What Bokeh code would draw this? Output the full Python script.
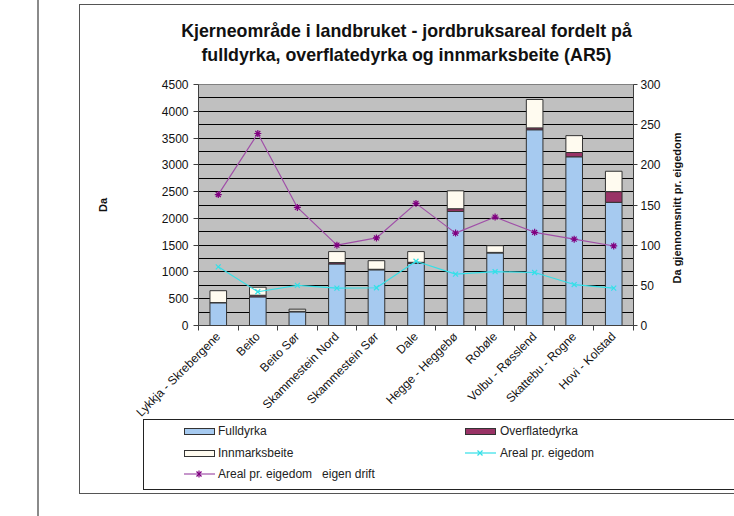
from math import pi
from bokeh.plotting import figure
from bokeh.layouts import column, row
from bokeh.models import (ColumnDataSource, Range1d, LinearAxis, FixedTicker, Div,
                          InlineStyleSheet)
from bokeh.embed import file_html
from bokeh.resources import INLINE

categories = ["Lykkja - Skrebergene", "Beito", "Beito Sør", "Skammestein Nord",
              "Skammestein Sør", "Dale", "Hegge - Heggebø", "Robøle",
              "Volbu - Røsslend", "Skattebu - Rogne", "Hovi - Kolstad"]
fulldyrka = [425, 535, 255, 1150, 1040, 1160, 2130, 1355, 3655, 3150, 2300]
overflatedyrka = [3, 30, 10, 25, 10, 20, 50, 10, 35, 80, 200]
innmarksbeite = [222, 150, 40, 205, 160, 200, 335, 125, 530, 315, 380]
areal_eigedom = [73, 42, 50, 46.5, 47, 80, 64, 67, 66, 51, 46.5]
areal_eigen_drift = [163, 239, 147, 100, 109, 152, 115, 135, 116, 107.5, 99]
left_ticks = list(range(0, 4501, 500))
grid_ticks = list(range(0, 4501, 250))
right_ticks = list(range(0, 301, 50))
title_lines = ["Kjerneområde i landbruket - jordbruksareal fordelt på",
               "fulldyrka, overflatedyrka og innmarksbeite  (AR5)"]
left_label = "Da"
right_label = "Da gjennomsnitt pr. eigedom"
series_names = ["Fulldyrka", "Overflatedyrka", "Innmarksbeite",
                "Areal pr. eigedom", "Areal pr. eigedom   eigen drift"]

FONT = "Liberation Sans"
SMALL = "12px"
C_FULL, C_OVER, C_INNM = "#A6CAF0", "#993366", "#FFFBF0"
C_CYAN, C_PURP, C_PURP_M = "#33E0E8", "#A050A8", "#800080"

x = [i + 0.5 for i in range(len(categories))]
src = ColumnDataSource(dict(x=x, full=fulldyrka, over=overflatedyrka, innm=innmarksbeite,
                            avg=areal_eigedom, avgd=areal_eigen_drift))

# ---------------- title (HTML text) ----------------
title_html = (
    f'<div style="margin-left:79px; width:655px; padding-top:19px; text-align:center; '
    f'font-family:\'{FONT}\'; font-size:17.8px; font-weight:bold; line-height:24px; '
    f'color:#111111; white-space:nowrap;">{title_lines[0]}<br>{title_lines[1]}</div>')
title_div = Div(text=title_html, width=734, height=74, margin=(0, 0, 0, 0))

# ---------------- main chart ----------------
P_H = 353
p = figure(width=668, height=P_H, output_backend="svg", toolbar_location=None,
           x_range=Range1d(0, len(categories)), y_range=Range1d(0, 4500),
           min_border_left=198, min_border_right=35, min_border_top=10, min_border_bottom=102,
           background_fill_color="#C0C0C0", border_fill_alpha=0,
           outline_line_color="#808080")
p.extra_y_ranges = {"avg": Range1d(0, 300)}

p.xgrid.visible = False
p.ygrid.ticker = FixedTicker(ticks=grid_ticks)
p.ygrid.grid_line_color = "black"
p.ygrid.grid_line_width = 1

xa = p.xaxis[0]
xa.ticker = FixedTicker(ticks=x, minor_ticks=list(range(len(categories) + 1)))
xa.major_label_overrides = {xi: c for xi, c in zip(x, categories)}
xa.major_tick_out = 0
xa.major_tick_in = 0
xa.minor_tick_out = 5
xa.minor_tick_in = 0
xa.major_label_standoff = 4
xa.major_label_orientation = pi / 4
xa.major_label_text_font = FONT
xa.major_label_text_font_size = SMALL
xa.major_label_text_color = "#111111"
xa.axis_line_color = "#404040"
xa.minor_tick_line_color = "#404040"

ya = p.yaxis[0]
ya.ticker = FixedTicker(ticks=left_ticks)
ya.major_tick_out = 5
ya.major_tick_in = 0
ya.minor_tick_line_color = None
ya.major_label_standoff = 5
ya.major_label_text_font = FONT
ya.major_label_text_font_size = SMALL
ya.major_label_text_color = "#111111"
ya.axis_line_color = "#404040"
ya.major_tick_line_color = "#404040"
ya.axis_label = left_label
ya.axis_label_standoff = 50
ya.axis_label_text_font = FONT
ya.axis_label_text_font_size = "11px"
ya.axis_label_text_font_style = "bold"
ya.axis_label_text_color = "#111111"

ra = LinearAxis(y_range_name="avg", ticker=FixedTicker(ticks=right_ticks))
ra.major_tick_out = 4
ra.major_tick_in = 0
ra.minor_tick_line_color = None
ra.major_label_standoff = 3
ra.major_label_text_font = FONT
ra.major_label_text_font_size = SMALL
ra.major_label_text_color = "#111111"
ra.axis_line_color = "#404040"
ra.major_tick_line_color = "#404040"
p.add_layout(ra, "right")

p.vbar_stack(["full", "over", "innm"], x="x", width=0.42, source=src,
             fill_color=[C_FULL, C_OVER, C_INNM], line_color="#333333", line_width=1)
p.line("x", "avg", source=src, y_range_name="avg", line_color=C_CYAN, line_width=1.2)
p.scatter("x", "avg", source=src, y_range_name="avg", marker="x", size=7,
          line_color=C_CYAN, line_width=1.2)
p.line("x", "avgd", source=src, y_range_name="avg", line_color=C_PURP, line_width=1.2)
p.scatter("x", "avgd", source=src, y_range_name="avg", marker="asterisk", size=7,
          line_color=C_PURP_M, line_width=1.2)

# ---------------- right axis title (reads bottom to top) ----------------
right_html = (
    f'<div style="position:relative; width:66px; height:{P_H}px;">'
    f'<div style="position:absolute; left:9px; top:134px; transform:translate(-50%,-50%) rotate(-90deg); '
    f'white-space:nowrap; font-family:\'{FONT}\'; font-size:11px; font-weight:bold; '
    f'color:#111111; line-height:13px;">{right_label}</div></div>')
right_div = Div(text=right_html, width=66, height=P_H, margin=(0, 0, 0, 0))

# ---------------- legend (HTML, below the chart) ----------------
def patch(left, cy, color):
    return (f'<span style="position:absolute; left:{left}px; top:{cy - 3.5}px; width:31px; '
            f'height:7px; background:{color}; border:1px solid #333333; '
            f'box-sizing:border-box;"></span>')

def line_icon(left, cy, color, mcolor, star):
    marks = (f'<line x1="12.5" y1="2.5" x2="17.5" y2="7.5" stroke="{mcolor}" stroke-width="1.2"/>'
             f'<line x1="12.5" y1="7.5" x2="17.5" y2="2.5" stroke="{mcolor}" stroke-width="1.2"/>')
    if star:
        marks += f'<line x1="15" y1="1.5" x2="15" y2="8.5" stroke="{mcolor}" stroke-width="1.2"/>'
    return (f'<svg width="31" height="10" style="position:absolute; left:{left}px; top:{cy - 5}px;">'
            f'<line x1="0" y1="5" x2="31" y2="5" stroke="{color}" stroke-width="1.2"/>{marks}</svg>')

def label(left, cy, text):
    return (f'<div style="position:absolute; left:{left}px; top:{cy - 8}px; height:16px; '
            f'line-height:16px; font-family:\'{FONT}\'; font-size:12px; color:#222222; '
            f'white-space:pre;">{text}</div>')

L_H = 516 - 74 - P_H
top0 = 74 + P_H
rows = [431 - top0, 453 - top0, 474 - top0]
col1, col2 = 184, 465
legend_html = (f'<div style="position:relative; width:734px; height:{L_H}px;">'
               + patch(col1, rows[0], C_FULL) + label(col1 + 34, rows[0], series_names[0])
               + patch(col2, rows[0], C_OVER) + label(col2 + 35, rows[0], series_names[1])
               + patch(col1, rows[1], C_INNM) + label(col1 + 34, rows[1], series_names[2])
               + line_icon(col2, rows[1], C_CYAN, C_CYAN, False)
               + label(col2 + 35, rows[1], series_names[3])
               + line_icon(col1, rows[2], C_PURP, C_PURP_M, True)
               + label(col1 + 34, rows[2], series_names[4])
               + '</div>')
legend_div = Div(text=legend_html, width=734, height=L_H, margin=(0, 0, 0, 0))

# ---------------- page decorations ----------------
css = """
:host { position: relative; overflow: hidden;
  background: linear-gradient(to right, transparent 37px, #8a8a8a 37px, #8a8a8a 39px, transparent 39px); }
:host::before { content: ""; position: absolute; left: 79px; top: 4px; width: 720px; height: 490px;
  border: 1px solid #555555; box-sizing: border-box; pointer-events: none; }
:host::after { content: ""; position: absolute; left: 143px; top: 419px; width: 660px; height: 71px;
  border: 1px solid #222222; box-sizing: border-box; pointer-events: none; }
"""
layout = column(title_div, row(p, right_div, spacing=0), legend_div, spacing=0)
layout.stylesheets = [InlineStyleSheet(css=css)]

open("out.html", "w").write(file_html(layout, INLINE))
